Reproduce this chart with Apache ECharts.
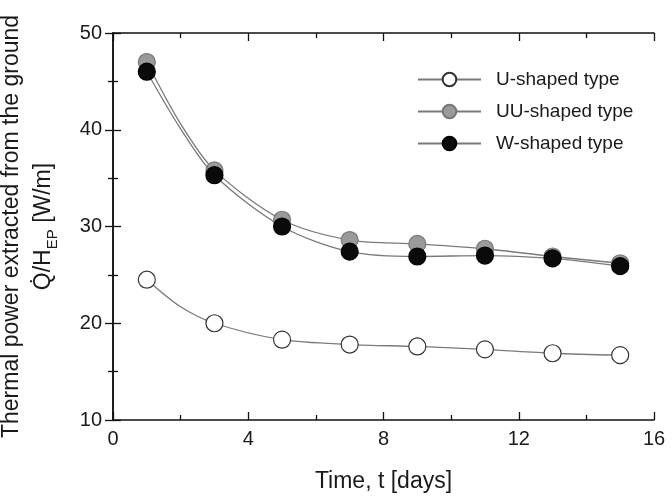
<!DOCTYPE html>
<html>
<head>
<meta charset="utf-8">
<script src="https://cdn.jsdelivr.net/npm/echarts@6/dist/echarts.min.js"></script>
<style>
  html, body { margin: 0; padding: 0; background: #fff; }
  #chart { width: 672px; height: 499px; }
</style>
</head>
<body>
<div id="chart"></div>
<script>
// Time of measurement [days]; markers are drawn on odd days only
const days = [1, 2, 3, 5, 7, 9, 11, 13, 15];
// Thermal power per unit length of borehole [W/m]
const uShaped  = [24.5, 21.7, 20.0, 18.3, 17.8, 17.6, 17.3, 16.9, 16.7];
const uuShaped = [47.0, 40.6, 35.8, 30.7, 28.6, 28.2, 27.7, 26.9, 26.2];
const wShaped  = [46.0, 40.1, 35.3, 30.0, 27.4, 26.9, 27.0, 26.7, 25.9];
const seriesNames = ['U-shaped type', 'UU-shaped type', 'W-shaped type'];
const xTicks = [0, 4, 8, 12, 16];
const yTicks = [10, 20, 30, 40, 50];

const font = 'Liberation Sans, Arial, sans-serif';
const txt = '#1a1a1a';

function points(vals) {
  return days.map((d, i) => d % 2 === 1
    ? { value: [d, vals[i]] }
    : { value: [d, vals[i]], symbol: 'none' });
}

const axisLine = { show: true, lineStyle: { color: '#111', width: 1.5 } };

function xAxisDef(primary) {
  return {
    type: 'value', min: xTicks[0], max: xTicks[xTicks.length - 1], interval: 4,
    position: primary ? 'bottom' : 'top',
    axisLine: axisLine,
    axisTick: { show: true, inside: true, length: 8, lineStyle: { color: '#111', width: 1.3 } },
    minorTick: { show: true, splitNumber: 2, length: 5, lineStyle: { color: '#111', width: 1.3 } },
    splitLine: { show: false },
    axisLabel: primary ? { show: true, margin: 9, fontSize: 20, color: txt, fontFamily: font } : { show: false },
    name: primary ? 'Time, t [days]' : '',
    nameLocation: 'middle', nameGap: 50,
    nameTextStyle: { fontSize: 23, color: txt, fontFamily: font }
  };
}

function yAxisDef(primary) {
  return {
    type: 'value', min: yTicks[0], max: yTicks[yTicks.length - 1], interval: 10,
    position: primary ? 'left' : 'right',
    axisLine: axisLine,
    axisTick: { show: true, inside: true, length: 8, lineStyle: { color: '#111', width: 1.3 } },
    minorTick: { show: true, splitNumber: 2, length: 5, lineStyle: { color: '#111', width: 1.3 } },
    splitLine: { show: false },
    axisLabel: primary ? { show: true, margin: 11, fontSize: 20, color: txt, fontFamily: font } : { show: false },
    name: primary ? '{a|Thermal power extracted from the ground}\n{b|Q\u0307/H}{s|EP}{b| [W/m]}' : '',
    nameLocation: 'middle', nameGap: 53, nameRotate: 90,
    nameTextStyle: {
      color: txt, fontFamily: font, align: 'center',
      rich: {
        a: { fontSize: 23, color: txt, fontFamily: font, lineHeight: 32 },
        b: { fontSize: 23, color: txt, fontFamily: font, lineHeight: 32 },
        s: { fontSize: 15, color: txt, fontFamily: font, lineHeight: 32, verticalAlign: 'bottom', padding: [10, 0, 0, 0] }
      }
    }
  };
}

const markerStyles = [
  { color: '#ffffff', borderColor: '#333', borderWidth: 1.2 },
  { color: '#9a9a9a', borderColor: '#777', borderWidth: 1.2 },
  { color: '#0a0a0a', borderColor: '#000', borderWidth: 1.2 }
];
const values = [uShaped, uuShaped, wShaped];

const chart = echarts.init(document.getElementById('chart'), null, { renderer: 'canvas' });
chart.setOption({
  backgroundColor: '#ffffff',
  animation: false,
  grid: { left: 113, right: 18, top: 33, bottom: 79, containLabel: false, outerBoundsMode: 'none' },
  xAxis: [xAxisDef(true), xAxisDef(false)],
  yAxis: [yAxisDef(true), yAxisDef(false)],
  legend: {
    orient: 'vertical', left: 412, top: 65,
    itemWidth: 63, itemHeight: 17, itemGap: 13,
    textStyle: { fontSize: 19, color: txt, fontFamily: font, padding: [0, 0, 0, 10] },
    data: seriesNames
  },
  series: seriesNames.map((n, i) => ({
    name: n, type: 'line', data: points(values[i]),
    smooth: 0.3,
    symbol: 'circle', symbolSize: 17,
    lineStyle: { color: '#7a7a7a', width: 1.3 },
    itemStyle: markerStyles[i],
    z: 2 + i
  }))
});
</script>
</body>
</html>
